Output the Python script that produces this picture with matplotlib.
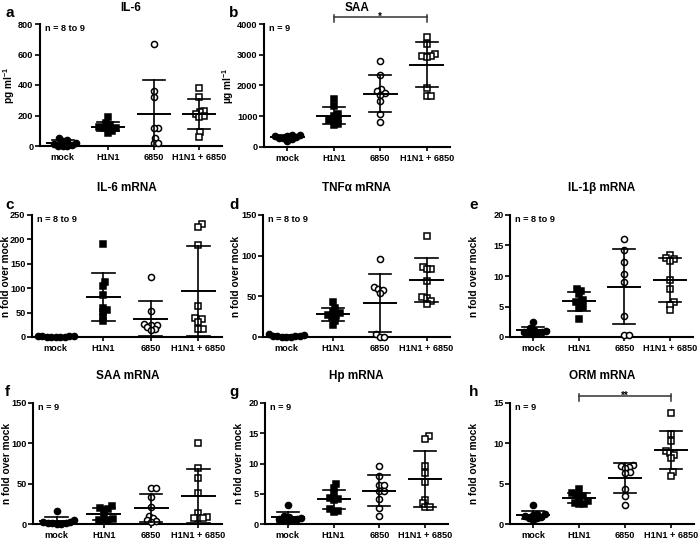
import numpy as np
import matplotlib
matplotlib.use("Agg")
import matplotlib.pyplot as plt
from matplotlib.transforms import blended_transform_factory

plt.rcParams['font.family'] = ['Liberation Sans', 'DejaVu Sans']
plt.rcParams['font.weight'] = 'bold'
plt.rcParams['mathtext.default'] = 'regular'

groups = ["mock", "H1N1", "6850", "H1N1 + 6850"]

# a: IL-6 (pg/ml)
il6_mock = [50, 42, 35, 20, 10, 5, 3, 2, 1]
il6_h1n1 = [190, 150, 140, 125, 120, 120, 115, 100, 85]
il6_6850 = [667, 358, 319, 120, 116, 50, 22, 22]
il6_combo = [378, 323, 230, 222, 210, 200, 190, 90, 62]
# b: SAA (ug/ml)
saa_mock = [400, 380, 370, 350, 330, 300, 280, 250, 200]
saa_h1n1 = [1570, 1330, 1080, 1000, 920, 880, 860, 760, 720]
saa_6850 = [2800, 2340, 1870, 1810, 1750, 1700, 1480, 1070, 800]
saa_combo = [3570, 3360, 3010, 2960, 2950, 2940, 1920, 1650, 1650]
# c: IL-6 mRNA
il6m_mock = [3, 2, 2, 1.5, 1, 1, 1, 0.5, 0.5]
il6m_h1n1 = [191, 113, 105, 87, 60, 55, 51, 42, 32]
il6m_6850 = [123, 53, 26, 25, 24, 20, 17, 14]
il6m_combo = [231, 225, 188, 64, 38, 37, 31, 17, 16]
# d: TNFa mRNA
tnf_mock = [4, 2, 1.5, 1, 1, 1, 0.5, 0.5, 0.5]
tnf_h1n1 = [43, 36, 31, 29, 27, 26, 24, 20, 15]
tnf_6850 = [96, 62, 59, 58, 54, 4, 0.5, 0.5]
tnf_combo = [124, 86, 84, 83, 69, 49, 48, 44, 41]
# e: IL-1b mRNA
il1_mock = [2.4, 1.5, 1.2, 1.0, 0.9, 0.8, 0.7, 0.6, 0.5]
il1_h1n1 = [7.9, 7.6, 7.0, 6.0, 5.8, 5.5, 4.9, 4.8, 3.0]
il1_6850 = [16.0, 14.2, 12.3, 10.3, 9.0, 3.4, 0.3, 0.3]
il1_combo = [13.4, 12.9, 12.8, 12.5, 9.4, 7.8, 5.8, 5.3, 4.4]
# f: SAA mRNA
saam_mock = [16, 5, 3, 2, 1.5, 1, 1, 0.5, 0.5]
saam_h1n1 = [22, 20, 19, 17, 10, 6, 5, 5, 4]
saam_6850 = [45, 45, 34, 21, 10, 8, 5, 4, 3]
saam_combo = [100, 70, 57, 38, 14, 9, 8, 8, 8]
# g: Hp mRNA
hp_mock = [3.2, 1.4, 1.2, 1.0, 0.9, 0.8, 0.7, 0.6, 0.5]
hp_h1n1 = [6.6, 6.0, 5.0, 4.3, 4.1, 3.9, 2.5, 2.2, 2.0]
hp_6850 = [9.6, 7.9, 6.5, 6.5, 5.4, 5.4, 4.1, 2.6, 1.4]
hp_combo = [14.6, 14.1, 9.6, 8.4, 7.0, 4.0, 3.4, 2.8, 2.8]
# h: ORM mRNA
orm_mock = [2.3, 1.3, 1.2, 1.1, 1.0, 0.9, 0.8, 0.7, 0.5]
orm_h1n1 = [4.3, 3.8, 3.6, 3.5, 3.2, 2.8, 2.6, 2.5, 2.5]
orm_6850 = [7.3, 7.2, 7.1, 6.9, 6.4, 6.3, 4.4, 3.5, 2.3]
orm_combo = [13.7, 11.2, 10.3, 9.0, 8.8, 8.6, 8.2, 6.45, 6.0]

W, H = 700, 540
fig = plt.figure(figsize=(7, 5.4), dpi=100)


def px_axes(l, t, r, b):
    return fig.add_axes([l / W, 1 - b / H, (r - l) / W, (b - t) / H])


def swarm(vals, ppy, ppx, d=4.3):
    vals = np.asarray(vals, float)
    order = np.argsort(vals)
    pxs, pys = [], []
    offs = np.zeros(len(vals))
    cands = [0.0]
    for k in range(1, 80):
        cands += [k * 0.5, -k * 0.5]
    for i in order:
        y = vals[i] * ppy
        chosen = 0.0
        for c in cands:
            if all((c - a) ** 2 + (y - b) ** 2 >= d * d for a, b in zip(pxs, pys)):
                chosen = c
                break
        pxs.append(chosen)
        pys.append(y)
        offs[i] = chosen / ppx
    return offs


styles = [dict(marker='o', mfc='black'), dict(marker='s', mfc='black'),
          dict(marker='o', mfc='white'), dict(marker='s', mfc='white')]


def panel(box, title, data, ymax, yticks, ylabel, nlabel, ylab_x,
          title_pad, sig=None):
    l, t, r, b = box
    ax = px_axes(l, t, r, b)
    xlim = (-0.5, 3.5)
    ax.set_xlim(*xlim)
    ax.set_ylim(0, ymax)
    hpx = b - t
    ppy = hpx / ymax
    ppx = (r - l) / (xlim[1] - xlim[0])
    for i, vals in enumerate(data):
        vals = np.asarray(vals, float)
        offs = swarm(vals, ppy, ppx)
        st = styles[i]
        ax.plot(i + offs, vals, ls='none', marker=st['marker'], ms=4.4,
                mfc=st['mfc'], mec='black', mew=1.1, clip_on=False, zorder=3)
        m = vals.mean()
        s = vals.std(ddof=1)
        ax.plot([i - 0.35, i + 0.35], [m, m], color='black', lw=1.4, zorder=4)
        ax.plot([i, i], [max(m - s, 0), m + s], color='black', lw=1.2, zorder=4,
                clip_on=False)
        for v in (m - s, m + s):
            if v >= 0:
                ax.plot([i - 0.24, i + 0.24], [v, v], color='black', lw=1.2,
                        zorder=4, clip_on=False)
    for sp in ('top', 'right'):
        ax.spines[sp].set_visible(False)
    for sp in ('left', 'bottom'):
        ax.spines[sp].set_linewidth(1.5)
    ax.set_yticks(yticks)
    ax.set_yticklabels([str(v) for v in yticks])
    ax.set_xticks(range(4))
    ax.set_xticklabels(groups)
    ax.tick_params(axis='both', labelsize=6.6, width=1.2, length=3.5, pad=1.2)
    ax.tick_params(axis='x', length=3, pad=2)
    fig.text(ylab_x / W, 1 - ((t + b) / 2) / H, ylabel, rotation=90,
             ha='center', va='center', fontsize=7.3, fontweight='bold')
    ax.set_title(title, fontsize=8.5, fontweight='bold', pad=title_pad)
    ax.text(5 / (r - l), 1.0, nlabel, transform=ax.transAxes, fontsize=6.6,
            fontweight='bold', va='top', ha='left')
    if sig is not None:
        x0, x1, stars = sig
        tr = blended_transform_factory(ax.transData, ax.transAxes)
        yb = 1 + 7 / hpx
        yt = 1 + 2.5 / hpx
        ax.plot([x0, x1], [yb, yb], color='#333333', lw=1.1, transform=tr, clip_on=False)
        ax.plot([x0, x0], [yt, yb + 2.5 / hpx], color='#333333', lw=1.1, transform=tr, clip_on=False)
        ax.plot([x1, x1], [yt, yb + 2.5 / hpx], color='#333333', lw=1.1, transform=tr, clip_on=False)
        ax.text((x0 + x1) / 2, yb - 2.5 / hpx, stars, transform=tr, fontsize=7,
                ha='center', va='baseline', fontweight='bold')
    return ax


def letter(x, y, s):
    fig.text(x / W, 1 - y / H, s, fontsize=11, fontweight='bold', va='baseline', ha='left')


nfold = 'n fold over mock'
panel((40, 24, 222, 146), 'IL-6', [il6_mock, il6_h1n1, il6_6850, il6_combo],
      800, [0, 200, 400, 600, 800], 'pg ml$^{-1}$', 'n = 8 to 9', 9, 9.5)
panel((264, 24, 450, 147), 'SAA', [saa_mock, saa_h1n1, saa_6850, saa_combo],
      4000, [0, 1000, 2000, 3000, 4000], 'µg ml$^{-1}$', 'n = 9', 228, 9.5,
      sig=(1, 3, '*'))
panel((32, 215, 222, 337), 'IL-6 mRNA', [il6m_mock, il6m_h1n1, il6m_6850, il6m_combo],
      250, [0, 50, 100, 150, 200, 250], nfold, 'n = 8 to 9', 6.5, 17)
panel((263, 215, 450, 337), 'TNFα mRNA', [tnf_mock, tnf_h1n1, tnf_6850, tnf_combo],
      150, [0, 50, 100, 150], nfold, 'n = 8 to 9', 236, 17)
panel((510, 215, 693, 337), 'IL-1β mRNA', [il1_mock, il1_h1n1, il1_6850, il1_combo],
      20, [0, 5, 10, 15, 20], nfold, 'n = 8 to 9', 474, 17)
panel((33, 403, 222, 524), 'SAA mRNA', [saam_mock, saam_h1n1, saam_6850, saam_combo],
      150, [0, 50, 100, 150], nfold, 'n = 9', 7, 17)
panel((265, 403, 448, 524), 'Hp mRNA', [hp_mock, hp_h1n1, hp_6850, hp_combo],
      20, [0, 5, 10, 15, 20], nfold, 'n = 9', 239, 17)
panel((510, 403, 694, 524), 'ORM mRNA', [orm_mock, orm_h1n1, orm_6850, orm_combo],
      15, [0, 5, 10, 15], nfold, 'n = 9', 474, 17, sig=(1, 3, '**'))

letter(5, 17, 'a')
letter(229, 17, 'b')
letter(5, 209, 'c')
letter(229, 209, 'd')
letter(469, 209, 'e')
letter(5, 396, 'f')
letter(229, 396, 'g')
letter(469, 396, 'h')

fig.savefig('out.png', dpi=100)
